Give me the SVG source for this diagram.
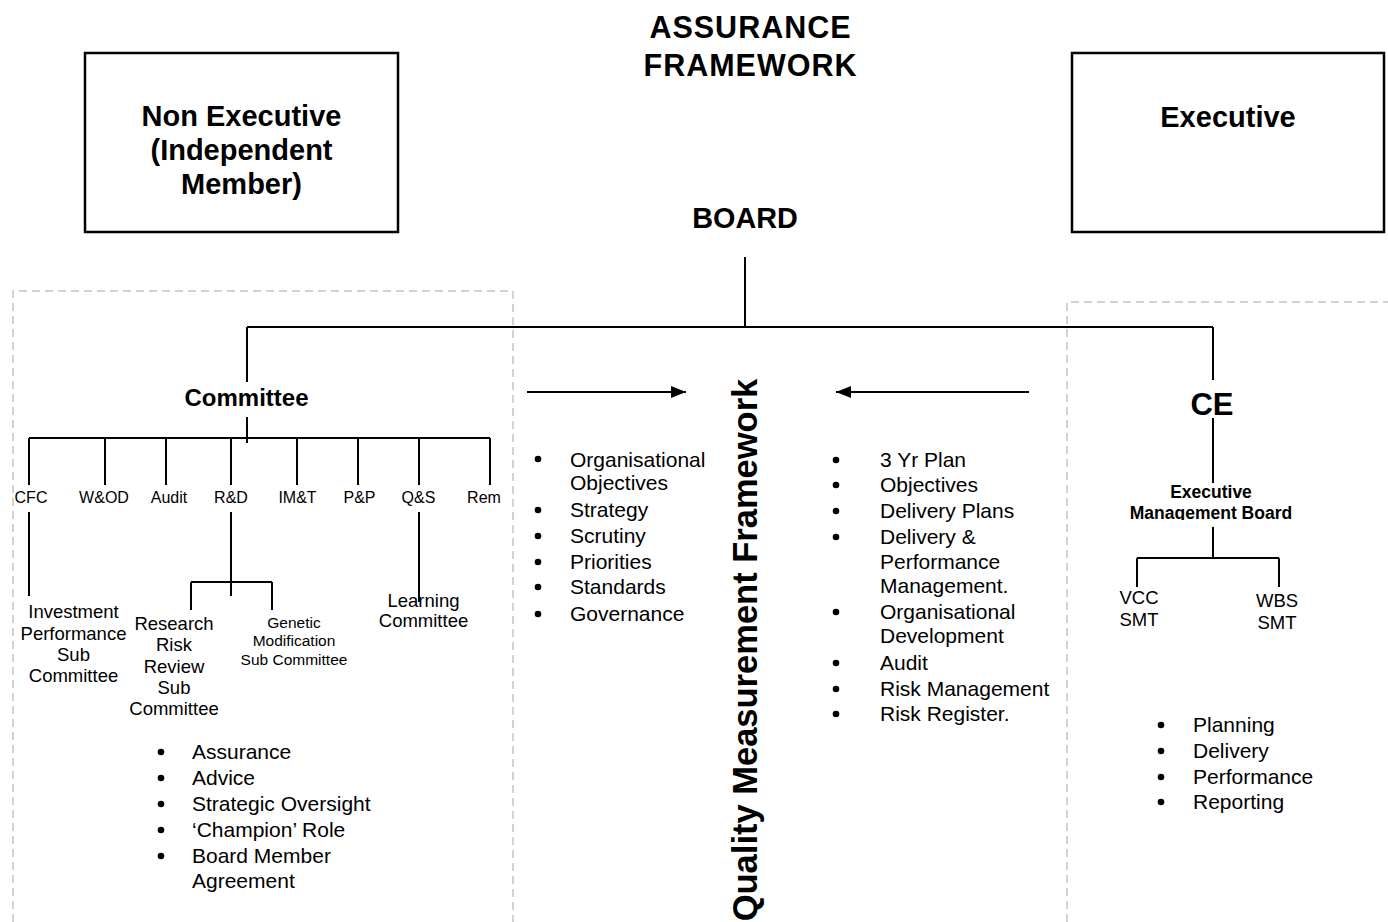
<svg xmlns="http://www.w3.org/2000/svg" width="1388" height="922" viewBox="0 0 1388 922">
<style>
text{font-family:"Liberation Sans",Arial,sans-serif;fill:#000}
.b{font-weight:bold}
.c{text-anchor:middle}
.ln{stroke:#000;stroke-width:2;fill:none}
.box{stroke:#000;stroke-width:2.5;fill:#fff}
.dash{stroke:#c4c4c4;stroke-width:1.5;fill:none;stroke-dasharray:8 5}
.li{font-size:21px}
.s16{font-size:16px}
.s18{font-size:18.5px}
.s15{font-size:15.5px}
</style>
<defs>
<marker id="ah" viewBox="0 0 15 12" refX="15" refY="6" markerWidth="15" markerHeight="12" markerUnits="userSpaceOnUse" orient="auto">
<path d="M0,0 L15,6 L0,12 Z" fill="#000"/>
</marker>
<clipPath id="embclip"><rect x="1100" y="470" width="220" height="50"/></clipPath>
</defs>
<rect width="1388" height="922" fill="#fff"/>

<g id="regions">
<path class="dash" d="M13,922 V291 H513 V922"/>
<path class="dash" d="M1067,922 V302 H1388"/>
</g>

<g id="title">
<text class="b c" x="750.5" y="38" font-size="30.5" letter-spacing="1">ASSURANCE</text>
<text class="b c" x="750.5" y="76" font-size="30.5" letter-spacing="1">FRAMEWORK</text>
</g>

<g id="non-executive">
<rect class="box" x="85" y="53" width="313" height="179"/>
<text class="b c" x="241.5" y="126" font-size="29">Non Executive</text>
<text class="b c" x="241.5" y="160" font-size="29">(Independent</text>
<text class="b c" x="241.5" y="194" font-size="29">Member)</text>
</g>

<g id="executive">
<rect class="box" x="1072" y="53" width="312" height="179"/>
<text class="b c" x="1228" y="127" font-size="29">Executive</text>
</g>

<g id="board"><text class="b c" x="745" y="228" font-size="28.8">BOARD</text></g>

<g id="connectors">
<path class="ln" d="M745,257 V327 M247,327 H1213 M247,327 V382 M1213,327 V380"/>
<path class="ln" d="M247,417 V443 M29,438 H490 M29,438 V485 M105,438 V485 M166,438 V485 M231,438 V485 M297,438 V485 M358,438 V485 M419,438 V485 M490,438 V485"/>
<path class="ln" d="M29,512 V596 M231,512 V596 M191,582 H272 M191,582 V610 M272,582 V610 M419,512 V602"/>
<path class="ln" d="M1213,418 V483 M1213,527 V558 M1137,558 H1279 M1137,558 V587 M1279,558 V587"/>
<line class="ln" x1="527" y1="392" x2="686" y2="392" marker-end="url(#ah)"/>
<line class="ln" x1="1029" y1="392" x2="836" y2="392" marker-end="url(#ah)"/>
</g>

<g id="committee"><text class="b c" x="246.5" y="406" font-size="24">Committee</text></g>

<g id="committees">
<text class="c s16" x="31" y="503">CFC</text>
<text class="c s16" x="104" y="503">W&amp;OD</text>
<text class="c s16" x="169" y="503">Audit</text>
<text class="c s16" x="231" y="503">R&amp;D</text>
<text class="c s16" x="297.5" y="503">IM&amp;T</text>
<text class="c s16" x="359.5" y="503">P&amp;P</text>
<text class="c s16" x="418.5" y="503">Q&amp;S</text>
<text class="c s16" x="484" y="503">Rem</text>
</g>

<g id="investment-performance">
<text class="c s18" x="73.5" y="617.5">Investment</text>
<text class="c s18" x="73.5" y="639.5">Performance</text>
<text class="c s18" x="73.5" y="661">Sub</text>
<text class="c s18" x="73.5" y="682">Committee</text>
</g>

<g id="research-risk">
<text class="c s18" x="174" y="629.5">Research</text>
<text class="c s18" x="174" y="651">Risk</text>
<text class="c s18" x="174" y="672.5">Review</text>
<text class="c s18" x="174" y="694">Sub</text>
<text class="c s18" x="174" y="715">Committee</text>
</g>

<g id="genetic-modification">
<text class="c s15" x="294" y="627.5">Genetic</text>
<text class="c s15" x="294" y="646">Modification</text>
<text class="c s15" x="294" y="664.5">Sub Committee</text>
</g>

<g id="learning">
<text class="c s18" x="423.5" y="607">Learning</text>
<text class="c s18" x="423.5" y="627">Committee</text>
</g>

<g id="committee-roles">
<circle cx="161" cy="752" r="3.3"/><text class="li" x="192" y="759">Assurance</text>
<circle cx="161" cy="778" r="3.3"/><text class="li" x="192" y="785">Advice</text>
<circle cx="161" cy="804" r="3.3"/><text class="li" x="192" y="811">Strategic Oversight</text>
<circle cx="161" cy="830" r="3.3"/><text class="li" x="192" y="837">‘Champion’ Role</text>
<circle cx="161" cy="856" r="3.3"/><text class="li" x="192" y="863">Board Member</text>
<text class="li" x="192" y="888">Agreement</text>
</g>

<g id="board-roles">
<circle cx="538" cy="459" r="3.3"/><text class="li" x="570" y="466.5">Organisational</text>
<text class="li" x="570" y="490">Objectives</text>
<circle cx="538" cy="510" r="3.3"/><text class="li" x="570" y="517">Strategy</text>
<circle cx="538" cy="536" r="3.3"/><text class="li" x="570" y="543">Scrutiny</text>
<circle cx="538" cy="562" r="3.3"/><text class="li" x="570" y="569">Priorities</text>
<circle cx="538" cy="587" r="3.3"/><text class="li" x="570" y="594">Standards</text>
<circle cx="538" cy="614" r="3.3"/><text class="li" x="570" y="621">Governance</text>
</g>

<g id="qmf"><text class="b c" transform="translate(757,650) rotate(-90)" x="0" y="0" font-size="34.5">Quality Measurement Framework</text></g>

<g id="executive-roles">
<circle cx="836" cy="460" r="3.3"/><text class="li" x="880" y="467">3 Yr Plan</text>
<circle cx="836" cy="485" r="3.3"/><text class="li" x="880" y="492">Objectives</text>
<circle cx="836" cy="511" r="3.3"/><text class="li" x="880" y="518">Delivery Plans</text>
<circle cx="836" cy="537" r="3.3"/><text class="li" x="880" y="544">Delivery &amp;</text>
<text class="li" x="880" y="569">Performance</text>
<text class="li" x="880" y="593">Management.</text>
<circle cx="836" cy="612" r="3.3"/><text class="li" x="880" y="618.5">Organisational</text>
<text class="li" x="880" y="643">Development</text>
<circle cx="836" cy="663" r="3.3"/><text class="li" x="880" y="669.5">Audit</text>
<circle cx="836" cy="689" r="3.3"/><text class="li" x="880" y="695.5">Risk Management</text>
<circle cx="836" cy="714" r="3.3"/><text class="li" x="880" y="720.5">Risk Register.</text>
</g>

<g id="ce"><text class="b c" x="1212" y="415" font-size="31">CE</text></g>

<g id="emb" clip-path="url(#embclip)">
<text class="b c" x="1211" y="498" font-size="17.5">Executive</text>
<text class="b c" x="1211" y="519" font-size="17.5">Management Board</text>
</g>

<g id="vcc-smt">
<text class="c s18" x="1139" y="604">VCC</text>
<text class="c s18" x="1139" y="626">SMT</text>
</g>
<g id="wbs-smt">
<text class="c s18" x="1277" y="607">WBS</text>
<text class="c s18" x="1277" y="629">SMT</text>
</g>

<g id="emb-roles">
<circle cx="1161" cy="725" r="3.3"/><text class="li" x="1193" y="731.5">Planning</text>
<circle cx="1161" cy="751" r="3.3"/><text class="li" x="1193" y="757.5">Delivery</text>
<circle cx="1161" cy="777" r="3.3"/><text class="li" x="1193" y="783.5">Performance</text>
<circle cx="1161" cy="802" r="3.3"/><text class="li" x="1193" y="808.5">Reporting</text>
</g>
</svg>
